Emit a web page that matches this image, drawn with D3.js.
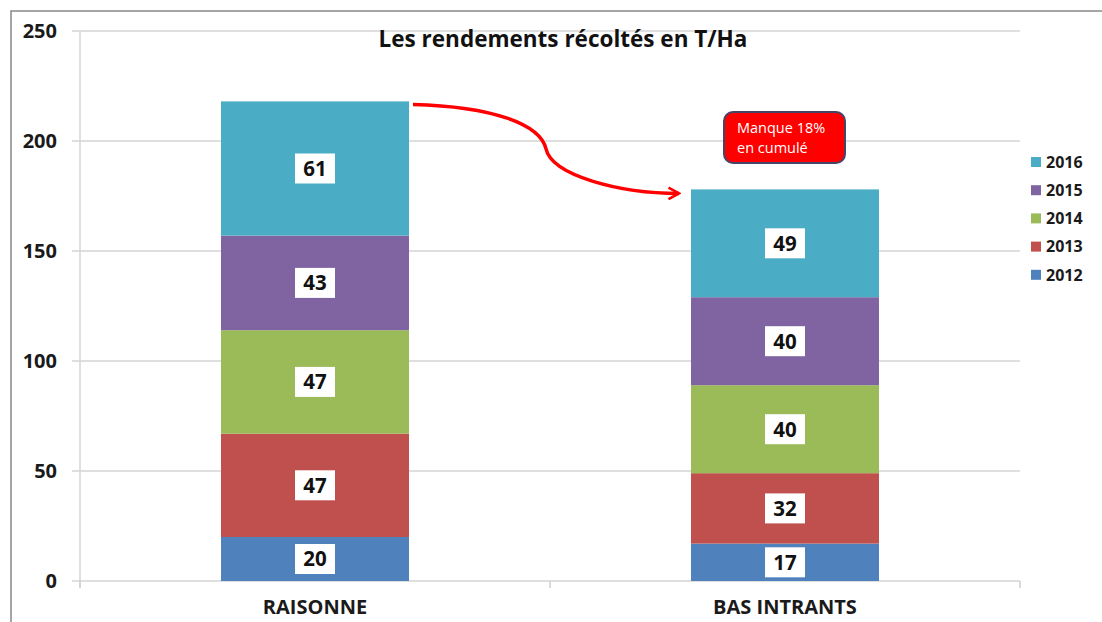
<!DOCTYPE html>
<html>
<head>
<meta charset="utf-8">
<script src="https://cdn.jsdelivr.net/npm/d3@7"></script>
<style>
  body { margin: 0; background: #fff; }
  svg text { font-family: "Open Sans", Lato, sans-serif; }
</style>
</head>
<body>
<svg id="chart" width="1102" height="622"></svg>
<script>
// data
const categories = ["RAISONNE", "BAS INTRANTS"];
const years = ["2012", "2013", "2014", "2015", "2016"];
const values2012 = [20, 17];
const values2013 = [47, 32];
const values2014 = [47, 40];
const values2015 = [43, 40];
const values2016 = [61, 49];
const yTicks = [0, 50, 100, 150, 200, 250];
const colors = ["#4f81bd", "#c0504d", "#9bbb59", "#8064a2", "#4bacc6"];

const series = [values2012, values2013, values2014, values2015, values2016];
const rows = categories.map((c, i) => {
  const r = { cat: c };
  years.forEach((y, j) => r[y] = series[j][i]);
  return r;
});

const svg = d3.select("#chart");

// outer frame (top and left edges only visible)
svg.append("path")
  .attr("d", "M11,622 L11,11 L1102,11")
  .attr("fill", "none")
  .attr("stroke", "#888")
  .attr("stroke-width", 1.5);

const plotLeft = 80, plotRight = 1020, plotTop = 31, plotBottom = 581;

const x = d3.scaleBand()
  .domain(categories)
  .range([plotLeft, plotRight])
  .paddingInner(0.6)
  .paddingOuter(0.3);

const y = d3.scaleLinear()
  .domain([0, 250])
  .range([plotBottom, plotTop]);

// gridlines
svg.append("g")
  .selectAll("line")
  .data(yTicks)
  .join("line")
  .attr("x1", plotLeft - 8)
  .attr("x2", plotRight)
  .attr("y1", d => y(d))
  .attr("y2", d => y(d))
  .attr("stroke", "#d4d4d4")
  .attr("stroke-width", 1.5);

// y axis line
svg.append("line")
  .attr("x1", plotLeft).attr("x2", plotLeft)
  .attr("y1", plotTop).attr("y2", plotBottom + 6)
  .attr("stroke", "#d4d4d4")
  .attr("stroke-width", 1.5);

// x axis ticks at band edges
const edges = [plotLeft, (plotLeft + plotRight) / 2, plotRight];
svg.append("g")
  .selectAll("line")
  .data(edges)
  .join("line")
  .attr("x1", d => d).attr("x2", d => d)
  .attr("y1", plotBottom).attr("y2", plotBottom + 7)
  .attr("stroke", "#cfcfcf")
  .attr("stroke-width", 1.5);

// y tick labels
svg.append("g")
  .selectAll("text")
  .data(yTicks)
  .join("text")
  .attr("x", 57)
  .attr("y", d => y(d))
  .attr("dy", "0.35em")
  .attr("text-anchor", "end")
  .attr("font-size", 20)
  .attr("font-weight", "bold")
  .attr("fill", "#1a1a1a")
  .text(d => d);

// stacked bars
const stack = d3.stack().keys(years)(rows);

const layers = svg.append("g")
  .selectAll("g")
  .data(stack)
  .join("g")
  .attr("fill", (d, i) => colors[i]);

layers.selectAll("rect")
  .data(d => d)
  .join("rect")
  .attr("x", d => x(d.data.cat))
  .attr("width", x.bandwidth())
  .attr("y", d => y(d[1]))
  .attr("height", d => y(d[0]) - y(d[1]));

// value labels in white boxes
const labels = svg.append("g")
  .selectAll("g")
  .data(stack.flatMap(s => s.map(d => ({ v: d[1] - d[0], mid: (d[0] + d[1]) / 2, cat: d.data.cat }))))
  .join("g")
  .attr("transform", d => `translate(${x(d.cat) + x.bandwidth() / 2},${y(d.mid)})`);

labels.append("rect")
  .attr("x", -20).attr("y", -15)
  .attr("width", 40).attr("height", 30)
  .attr("fill", "#fff");

labels.append("text")
  .attr("dy", "0.36em")
  .attr("text-anchor", "middle")
  .attr("font-size", 20.5)
  .attr("font-weight", "bold")
  .attr("fill", "#111")
  .text(d => d.v);

// category labels
svg.append("g")
  .selectAll("text")
  .data(categories)
  .join("text")
  .attr("x", d => x(d) + x.bandwidth() / 2)
  .attr("y", 607)
  .attr("dy", "0.35em")
  .attr("text-anchor", "middle")
  .attr("font-size", 20)
  .attr("font-weight", "bold")
  .attr("fill", "#1a1a1a")
  .text(d => d);

// title
svg.append("text")
  .attr("x", 563)
  .attr("y", 39)
  .attr("dy", "0.35em")
  .attr("text-anchor", "middle")
  .attr("font-size", 22.5)
  .attr("font-weight", "bold")
  .attr("fill", "#111")
  .text("Les rendements récoltés en T/Ha");

// legend
const legend = svg.append("g")
  .selectAll("g")
  .data(years.slice().reverse())
  .join("g")
  .attr("transform", (d, i) => `translate(1031,${162 + i * 28.2})`);

legend.append("rect")
  .attr("x", 0).attr("y", -5)
  .attr("width", 10).attr("height", 10)
  .attr("fill", d => colors[years.indexOf(d)]);

legend.append("text")
  .attr("x", 15)
  .attr("dy", "0.36em")
  .attr("font-size", 16)
  .attr("font-weight", "bold")
  .attr("fill", "#1a1a1a")
  .text(d => d);

// arrow annotation
const defs = svg.append("defs");
defs.append("marker")
  .attr("id", "head")
  .attr("viewBox", "0 0 12 12")
  .attr("refX", 10).attr("refY", 6)
  .attr("markerWidth", 4).attr("markerHeight", 4)
  .attr("orient", "auto")
  .append("path")
  .attr("d", "M1,1 L10,6 L1,11")
  .attr("fill", "none")
  .attr("stroke", "#f00")
  .attr("stroke-width", 2.2);

const ax0 = x("RAISONNE") + x.bandwidth() + 4;
const ay0 = y(d3.sum(series, s => s[0])) + 3;
const ax1 = x("BAS INTRANTS") - 12;
const ay1 = y(d3.sum(series, s => s[1])) + 4;
const axm = (ax0 + ax1) / 2;
const aym = (ay0 + ay1) / 2;
svg.append("path")
  .attr("d", `M${ax0},${ay0} C${ax0 + 80},${ay0 + 2} ${axm - 6},${ay0 + 20} ${axm},${aym}` +
             ` C${axm + 6},${ay1 - 18} ${ax1 - 60},${ay1} ${ax1},${ay1}`)
  .attr("fill", "none")
  .attr("stroke", "#f00")
  .attr("stroke-width", 3.5)
  .attr("marker-end", "url(#head)");

// callout
const callout = svg.append("g").attr("transform", "translate(724,112)");
callout.append("rect")
  .attr("width", 121).attr("height", 51)
  .attr("rx", 9)
  .attr("fill", "#ff0000")
  .attr("stroke", "#45456b")
  .attr("stroke-width", 2);
callout.append("text")
  .attr("x", 13).attr("y", 21)
  .attr("font-size", 14.5)
  .attr("fill", "#fff")
  .text("Manque 18%");
callout.append("text")
  .attr("x", 13).attr("y", 41)
  .attr("font-size", 14.5)
  .attr("fill", "#fff")
  .text("en cumulé");
</script>
</body>
</html>
